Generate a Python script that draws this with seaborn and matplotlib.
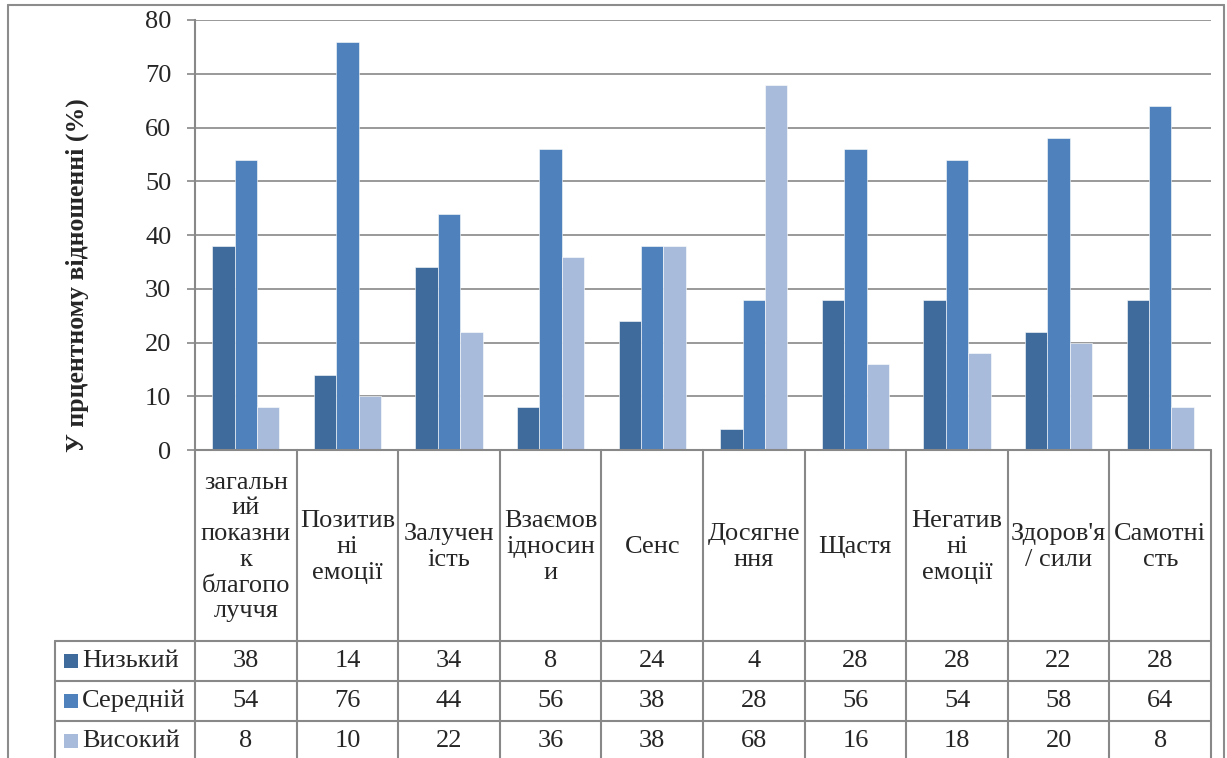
import pandas as pd
import matplotlib.pyplot as plt
import matplotlib.transforms as mtransforms
from matplotlib.lines import Line2D
from matplotlib.patches import Rectangle
import seaborn as sns

# Données
categories = ["загальний показник благополуччя", "Позитивні емоції", "Залученість",
              "Взаємовідносини", "Сенс", "Досягнення", "Щастя",
              "Негативні емоції", "Здоров'я / сили", "Самотність"]
header_labels = ["загальн\nий\nпоказни\nк\nблагопо\nлуччя", "Позитив\nні\nемоції",
                 "Залучен\nість", "Взаємов\nідносин\nи", "Сенс", "Досягне\nння",
                 "Щастя", "Негатив\nні\nемоції", "Здоров'я\n/ сили", "Самотні\nсть"]
levels = ["Низький", "Середній", "Високий"]
low = [38, 14, 34, 8, 24, 4, 28, 28, 22, 28]
mid = [54, 76, 44, 56, 38, 28, 56, 54, 58, 64]
high = [8, 10, 22, 36, 38, 68, 16, 18, 20, 8]
colors = ["#3E6A9C", "#4F81BD", "#A9BBDB"]
y_ticks = [0, 10, 20, 30, 40, 50, 60, 70, 80]

series = [low, mid, high]
df = pd.DataFrame({
    "cat": categories * 3,
    "level": [lv for lv in levels for _ in categories],
    "val": low + mid + high,
})

sns.set_style("white")
plt.rcParams["font.family"] = ["Liberation Serif", "DejaVu Serif"]

W, H = 1227, 758
fs = 19
fig = plt.figure(figsize=(W / 100, H / 100), dpi=100)
ax = fig.add_axes([195 / W, 1 - 450 / H, (1211 - 195) / W, (450 - 20) / H])

sns.barplot(data=df, x="cat", y="val", hue="level", hue_order=levels,
            order=categories, palette=colors, saturation=1, width=0.66, gap=0,
            edgecolor="white", linewidth=0.4, legend=False, ax=ax)

grey = "#888888"
ax.set_ylim(0, 80)
ax.set_xlim(-0.5, len(categories) - 0.5)
ax.set_yticks(y_ticks)
ax.yaxis.grid(True, color=grey, linewidth=1.2)
ax.set_axisbelow(True)
ax.set_xticks([])
ax.set_xlabel("")
ax.set_ylabel("")
ax.tick_params(axis="y", labelsize=fs, length=6, width=1.2, color=grey,
               pad=11, left=True)
for s in ["top", "right", "bottom"]:
    ax.spines[s].set_visible(False)
ax.spines["left"].set_color(grey)
ax.spines["left"].set_linewidth(1.5)

fig.text(77 / W, 1 - 275 / H, "У прцентному відношенні (%)", rotation=90,
         ha="center", va="center", fontsize=18.5, fontweight="bold")

# Tableau de données sous le graphique
tr = mtransforms.blended_transform_factory(ax.transData, fig.transFigure)
y_axis = 1 - 450 / H
row_lines = [1 - 641 / H, 1 - 681 / H, 1 - 721 / H]
row_centers = [1 - 661 / H, 1 - 701 / H, 1 - 741 / H]
x_leg = 55 / W
x_left = 195 / W
lw = 1.5

# lignes horizontales
fig.add_artist(Line2D([x_left, 1211 / W], [y_axis, y_axis], color=grey, lw=lw))
for y in row_lines:
    fig.add_artist(Line2D([x_leg, 1211 / W], [y, y], color=grey, lw=lw))
# lignes verticales
fig.add_artist(Line2D([x_leg, x_leg], [0, row_lines[0]], color=grey, lw=lw))
fig.add_artist(Line2D([x_left, x_left], [0, y_axis], color=grey, lw=lw))
for k in range(1, len(categories) + 1):
    ax.add_artist(Line2D([k - 0.5, k - 0.5], [0, y_axis], color=grey, lw=lw,
                         transform=tr, clip_on=False))

# en-têtes des catégories
for k, lab in enumerate(header_labels):
    ax.text(k, 1 - 547 / H, lab, transform=tr, ha="center", va="center",
            fontsize=fs, linespacing=1.22, clip_on=False)

# lignes de valeurs avec légende
for i, (lv, vals) in enumerate(zip(levels, series)):
    yc = row_centers[i]
    fig.add_artist(Rectangle((64 / W, yc - 7 / H), 14 / W, 14 / H,
                             facecolor=colors[i], edgecolor="none",
                             transform=fig.transFigure))
    fig.text(82 / W, yc, lv, ha="left", va="center", fontsize=fs)
    for k, v in enumerate(vals):
        ax.text(k, yc, str(v), transform=tr, ha="center", va="center",
                fontsize=fs, clip_on=False)

# cadre extérieur
bc = "#8c8c8c"
fig.add_artist(Line2D([8 / W, 8 / W], [0, 1 - 5 / H], color=bc, lw=1.5))
fig.add_artist(Line2D([1224 / W, 1224 / W], [0, 1 - 5 / H], color=bc, lw=1.5))
fig.add_artist(Line2D([8 / W, 1224 / W], [1 - 5 / H, 1 - 5 / H], color=bc, lw=1.5))

fig.savefig("out.png", dpi=100)
